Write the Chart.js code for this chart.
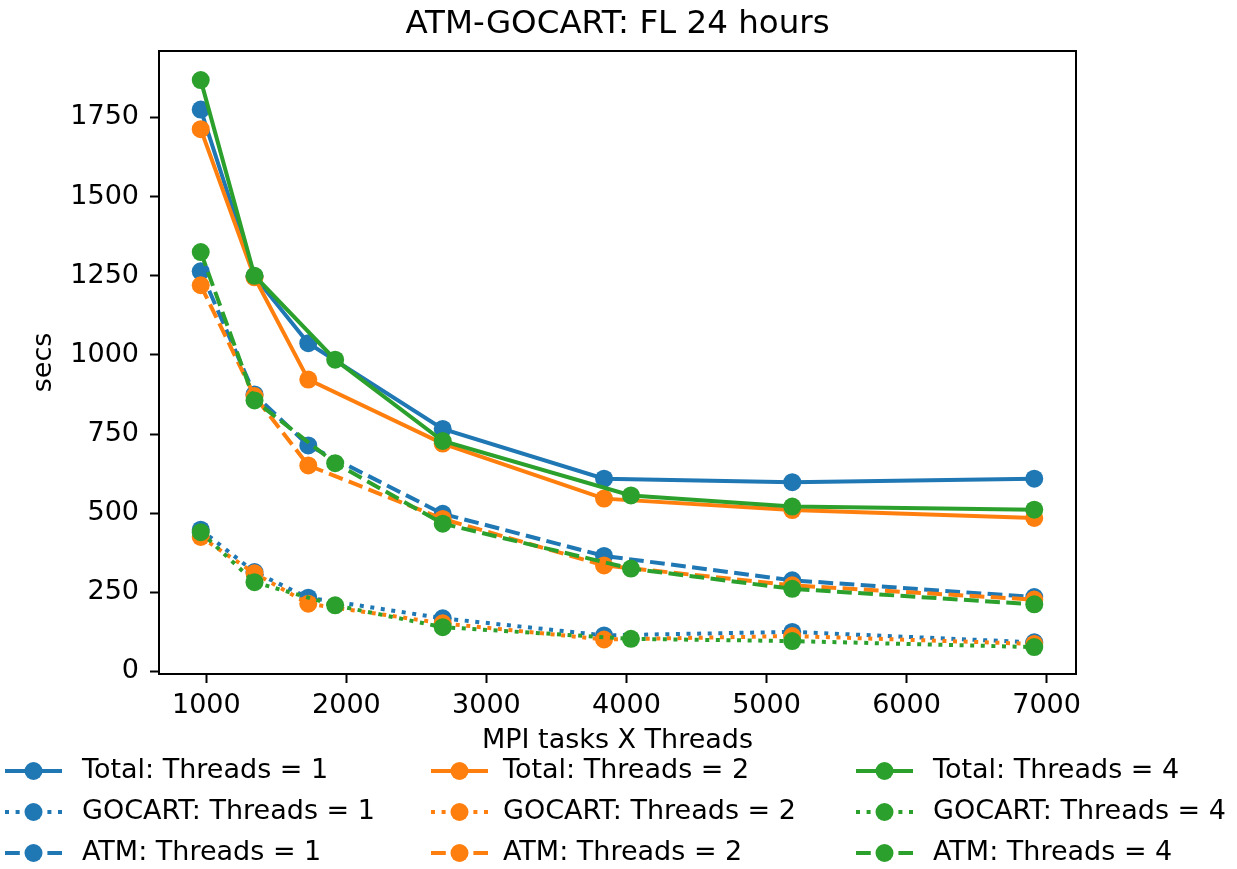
<!DOCTYPE html>
<html>
<head>
<meta charset="utf-8">
<script src="https://cdn.jsdelivr.net/npm/chart.js@4.4.1/dist/chart.umd.min.js"></script>
<style>
  html, body { margin: 0; padding: 0; background: #fff; }
  canvas { display: block; }
</style>
</head>
<body>
<canvas id="chart" width="1237" height="869"></canvas>
<script>
// MPI tasks X Threads (threads 1 and 2 share the same layouts, threads 4 differs)
const tasksThreads12 = [960, 1344, 1728, 2688, 3840, 5184, 6912];
const tasksThreads4 = [960, 1344, 1920, 2688, 4032, 5184, 6912];

const totalT1 = [1775, 1248, 1037, 766, 609, 598, 609];
const totalT2 = [1713, 1245, 922, 720, 546, 510, 485];
const totalT4 = [1868, 1250, 985, 728, 556, 521, 511];

const gocartT1 = [448, 314, 233, 168, 114, 125, 92];
const gocartT2 = [425, 310, 214, 152, 101, 112, 87];
const gocartT4 = [440, 282, 209, 140, 103, 96, 77];

const atmT1 = [1264, 875, 714, 498, 365, 288, 235];
const atmT2 = [1220, 870, 651, 482, 335, 272, 227];
const atmT4 = [1325, 856, 658, 467, 325, 261, 212];

const xTicks = [1000, 2000, 3000, 4000, 5000, 6000, 7000];
const yTicks = [0, 250, 500, 750, 1000, 1250, 1500, 1750];

const FONT = "'DejaVu Sans', sans-serif";
const FONT_SIZE = 27;
const BLUE = "#1f77b4";
const ORANGE = "#ff7f0e";
const GREEN = "#2ca02c";
const LW = 4;
const MARKER = 9;
const DASHED = [14.8, 6.4];
const DOTTED = [4, 6.6];

function series(label, xs, ys, color, dash) {
  return {
    label,
    data: xs.map((x, i) => ({ x, y: ys[i] })),
    borderColor: color,
    backgroundColor: color,
    pointBackgroundColor: color,
    pointBorderColor: color,
    pointBorderWidth: 0,
    pointRadius: MARKER,
    borderWidth: LW,
    borderDash: dash,
    borderCapStyle: "butt",
    tension: 0,
    fill: false,
  };
}

// same order as the legend (column by column)
const datasets = [
  series("Total: Threads = 1", tasksThreads12, totalT1, BLUE, []),
  series("GOCART: Threads = 1", tasksThreads12, gocartT1, BLUE, DOTTED),
  series("ATM: Threads = 1", tasksThreads12, atmT1, BLUE, DASHED),
  series("Total: Threads = 2", tasksThreads12, totalT2, ORANGE, []),
  series("GOCART: Threads = 2", tasksThreads12, gocartT2, ORANGE, DOTTED),
  series("ATM: Threads = 2", tasksThreads12, atmT2, ORANGE, DASHED),
  series("Total: Threads = 4", tasksThreads4, totalT4, GREEN, []),
  series("GOCART: Threads = 4", tasksThreads4, gocartT4, GREEN, DOTTED),
  series("ATM: Threads = 4", tasksThreads4, atmT4, GREEN, DASHED),
];
// later series are drawn on top, as in the original plot
datasets.forEach((ds, i) => { ds.order = datasets.length - i; });

const frameAndText = {
  id: "frame-and-text",
  afterDatasetsDraw(chart) {
    const { ctx, chartArea: a } = chart;
    ctx.save();
    ctx.strokeStyle = "#000";
    ctx.lineWidth = 2;
    ctx.strokeRect(a.left, a.top, a.right - a.left, a.bottom - a.top);
    ctx.restore();
  },
  afterDraw(chart) {
    const { ctx, chartArea: a } = chart;
    ctx.save();
    ctx.fillStyle = "#000";
    ctx.font = `32.5px ${FONT}`;
    ctx.textAlign = "center";
    ctx.textBaseline = "middle";
    ctx.fillText("ATM-GOCART: FL 24 hours", (a.left + a.right) / 2, 25);

    // legend: 3 columns x 3 rows, filled column by column
    const cols = [{ line: 5, text: 82 }, { line: 431, text: 503 }, { line: 856, text: 933 }];
    const rows = [771, 812, 853];
    ctx.font = `${FONT_SIZE}px ${FONT}`;
    ctx.textAlign = "left";
    chart.data.datasets.forEach((ds, i) => {
      const col = cols[Math.floor(i / 3)];
      const y = rows[i % 3];
      ctx.strokeStyle = ds.borderColor;
      ctx.lineWidth = LW;
      ctx.lineCap = "butt";
      ctx.setLineDash(ds.borderDash);
      ctx.beginPath();
      ctx.moveTo(col.line, y);
      ctx.lineTo(col.line + 57, y);
      ctx.stroke();
      ctx.setLineDash([]);
      ctx.fillStyle = ds.borderColor;
      ctx.beginPath();
      ctx.arc(col.line + 28.5, y, MARKER, 0, Math.PI * 2);
      ctx.fill();
      ctx.fillStyle = "#000";
      ctx.fillText(ds.label, col.text, y);
    });
    ctx.restore();
  },
};

new Chart(document.getElementById("chart"), {
  type: "line",
  data: { datasets },
  options: {
    responsive: false,
    animation: false,
    devicePixelRatio: 1,
    layout: { padding: { top: 51, right: 161, left: 0, bottom: 0 } },
    plugins: {
      legend: { display: false },
      title: { display: false },
      tooltip: { enabled: false },
    },
    scales: {
      x: {
        type: "linear",
        min: 662,
        max: 7210,
        afterFit: scale => { scale.height = 195; },
        afterBuildTicks: scale => { scale.ticks = xTicks.map(value => ({ value })); },
        grid: { drawOnChartArea: false, drawTicks: true, tickLength: 9, tickColor: "#000", tickWidth: 2 },
        border: { display: false },
        ticks: {
          color: "#000",
          font: { family: FONT, size: FONT_SIZE },
          padding: 7,
          maxRotation: 0,
          callback: v => String(v),
        },
        title: {
          display: true,
          text: "MPI tasks X Threads",
          color: "#000",
          font: { family: FONT, size: FONT_SIZE },
          padding: { top: 0, bottom: 112 },
        },
      },
      y: {
        type: "linear",
        min: -8,
        max: 1960,
        afterFit: scale => { scale.width = 159; },
        afterBuildTicks: scale => { scale.ticks = yTicks.map(value => ({ value })); },
        grid: { drawOnChartArea: false, drawTicks: true, tickLength: 9, tickColor: "#000", tickWidth: 2 },
        border: { display: false },
        ticks: {
          color: "#000",
          font: { family: FONT, size: FONT_SIZE },
          padding: 11,
          callback: v => String(v),
        },
        title: {
          display: true,
          text: "secs",
          color: "#000",
          font: { family: FONT, size: FONT_SIZE },
          padding: { top: 28, bottom: 0 },
        },
      },
    },
  },
  plugins: [frameAndText],
});
</script>
</body>
</html>
